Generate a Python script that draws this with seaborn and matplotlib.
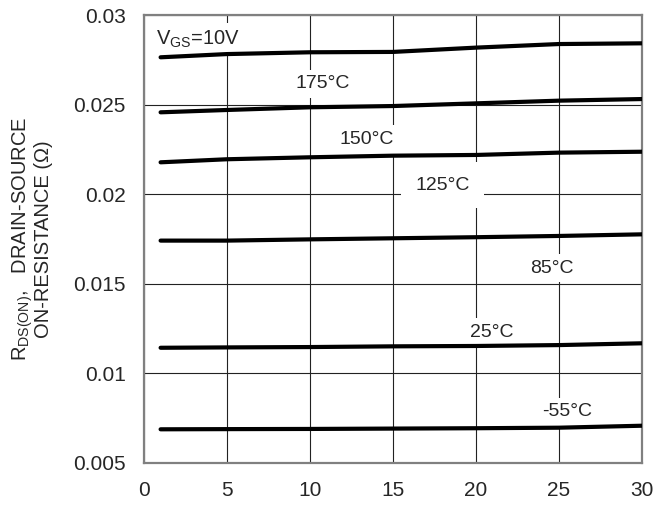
import matplotlib
matplotlib.use("Agg")
import matplotlib.pyplot as plt
import pandas as pd
import seaborn as sns

# --------------------------------------------------
# Data
# --------------------------------------------------
vds = [1, 5, 10, 15, 20, 25, 30]

r_top = [0.02764, 0.02782, 0.02792, 0.02794, 0.02818, 0.02838, 0.02842]
r_175 = [0.02457, 0.02470, 0.02485, 0.02492, 0.02507, 0.02522, 0.02531]
r_150 = [0.02178, 0.02195, 0.02206, 0.02215, 0.02219, 0.02232, 0.02237]
r_125 = [0.01741, 0.01741, 0.01748, 0.01754, 0.01760, 0.01767, 0.01776]
r_25 = [0.01143, 0.01145, 0.01147, 0.01151, 0.01153, 0.01158, 0.01168]
r_m55 = [0.00688, 0.00689, 0.00690, 0.00692, 0.00694, 0.00697, 0.00708]

series_names = ["c1", "c2", "c3", "c4", "c5", "c6"]
series_values = [r_top, r_175, r_150, r_125, r_25, r_m55]

temp_labels = ["175°C", "150°C", "125°C", "85°C", "25°C", "-55°C"]
temp_label_x = [10.75, 13.4, 17.98, 24.55, 20.96, 25.48]
temp_label_y = [0.02615, 0.02305, 0.02051, 0.01588, 0.01231, 0.00785]

x_ticks = [0, 5, 10, 15, 20, 25, 30]
y_ticks = [0.005, 0.01, 0.015, 0.02, 0.025, 0.03]
y_tick_labels = ["0.005", "0.01", "0.015", "0.02", "0.025", "0.03"]

# long-form table for seaborn
rows = []
for name, vals in zip(series_names, series_values):
    for x, y in zip(vds, vals):
        rows.append({"vds": x, "r": y, "curve": name})
df = pd.DataFrame(rows)

# --------------------------------------------------
# Style
# --------------------------------------------------
sns.set_style("white")
plt.rcParams["font.family"] = ["Liberation Sans", "DejaVu Sans"]
plt.rcParams["mathtext.fontset"] = "custom"
plt.rcParams["mathtext.rm"] = "Liberation Sans"
plt.rcParams["mathtext.it"] = "Liberation Sans"

fig = plt.figure(figsize=(6.53, 5.07), dpi=100)
ax = fig.add_axes([0.2205, 0.0868, 0.7626, 0.8836])

sns.lineplot(data=df, x="vds", y="r", hue="curve",
             palette=["black"] * len(series_names), linewidth=3,
             legend=False, ax=ax, zorder=3)

ax.set_xlim(0, 30)
ax.set_ylim(0.005, 0.03)
ax.set_xticks(x_ticks)
ax.set_yticks(y_ticks)
ax.set_yticklabels(y_tick_labels)
ax.tick_params(axis="both", length=0, labelsize=15, pad=13)
ax.grid(True, color="#222222", linewidth=0.8, zorder=0.5)
ax.set_axisbelow(True)
for sp in ax.spines.values():
    sp.set_color("#808080")
    sp.set_linewidth(1.6)

ax.set_xlabel("")
ax.set_ylabel("R$_{\\mathrm{DS(ON)}}$,   DRAIN-SOURCE\nON-RESISTANCE (\u03a9)",
              fontsize=14.5, linespacing=0.95)
ax.yaxis.set_label_coords(-0.183, 0.5)

# temperature labels with white boxes hiding the grid
for txt, lx, ly in zip(temp_labels, temp_label_x, temp_label_y):
    pad = 0.75 if txt.startswith("125") else 0.3
    ax.text(lx, ly, txt, ha="center", va="center", fontsize=14, zorder=2,
            bbox=dict(boxstyle=f"square,pad={pad}", facecolor="white",
                      edgecolor="none"))

ax.text(0.72, 0.02863, "V$_{\\mathrm{GS}}$=10V", ha="left", va="center",
        fontsize=14.5, zorder=2,
        bbox=dict(boxstyle="square,pad=0.3", facecolor="white", edgecolor="none"))

fig.savefig("out.png", dpi=100)
